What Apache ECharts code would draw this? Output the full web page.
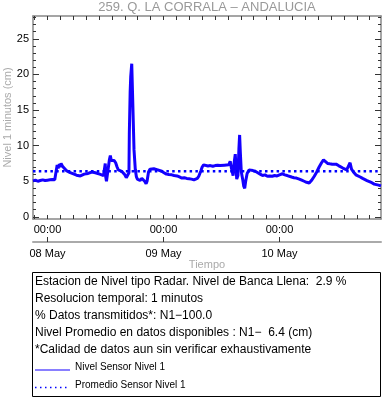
<!DOCTYPE html>
<html>
<head>
<meta charset="utf-8">
<script src="https://cdn.jsdelivr.net/npm/echarts@6/dist/echarts.min.js"></script>
<style>
html,body{margin:0;padding:0;background:#fff;}
#c{width:382px;height:404px;}
</style>
</head>
<body>
<div id="c"></div>
<script>
// ---- data (hours relative to 08 May 00:00, level in cm) ----
var titulo = '259. Q. LA CORRALA \u2013 ANDALUCIA';
var horas = [-3.0,-2.5,-2.0,-1.5,-1.0,-0.5,0.0,0.5,1.0,1.5,1.85,2.0,2.2,2.45,2.6,2.8,3.1,3.5,3.9,4.3,4.7,5.1,5.5,6.0,6.4,6.8,7.2,7.6,8.0,8.4,8.8,9.2,9.5,9.9,10.3,10.8,11.2,11.6,11.85,11.95,12.05,12.2,12.35,12.6,12.8,13.0,13.2,13.5,13.8,14.1,14.4,14.65,15.0,15.35,15.7,16.0,16.3,16.5,16.7,16.85,16.93,17.1,17.22,17.43,17.63,17.9,18.17,18.4,18.6,18.9,19.15,19.5,19.8,20.1,20.4,20.6,20.9,21.2,21.6,22.0,22.4,22.8,23.2,23.65,24.1,24.6,25.1,25.7,26.2,26.8,27.3,27.8,28.3,28.8,29.3,29.8,30.3,30.6,31.0,31.3,31.7,32.0,32.3,32.7,33.2,33.7,34.2,34.7,35.2,35.7,36.1,36.6,37.0,37.5,37.8,38.0,38.2,38.4,38.6,38.85,39.0,39.15,39.4,39.6,39.75,39.9,40.1,40.4,40.6,40.8,41.0,41.3,41.7,42.0,42.5,43.0,43.5,44.0,44.5,45.0,45.5,46.0,46.5,47.0,47.5,48.0,48.6,49.1,49.6,50.0,50.5,51.0,51.5,52.1,52.6,53.1,53.6,54.15,54.6,55.2,55.7,56.2,56.7,57.1,57.5,57.95,58.4,58.9,59.3,59.7,60.2,60.6,61.1,61.5,61.9,62.3,62.6,62.9,63.3,63.8,64.2,64.7,65.2,65.6,66.1,66.6,67.1,67.6,68.0,68.5,69.0];
var nivel = [5.05,5.15,5.0,5.1,5.2,5.1,5.15,5.2,5.25,5.2,5.3,7.3,6.8,7.4,7.0,7.5,7.1,6.9,6.5,6.4,6.2,6.15,6.0,5.85,5.9,5.75,5.9,6.0,6.05,6.1,6.2,6.3,6.35,6.2,6.1,6.0,6.05,5.8,5.6,7.5,5.6,5.0,5.2,7.0,8.0,8.6,7.9,8.0,7.9,7.6,7.0,6.6,6.5,6.4,6.2,5.9,5.5,5.3,5.4,6.2,11.7,17.5,19.7,21.5,16.4,9.4,6.6,5.6,5.3,5.2,5.1,5.4,5.3,5.0,4.65,5.0,6.3,6.7,6.8,6.75,6.8,6.6,6.5,6.4,6.2,6.0,5.95,5.9,5.8,5.75,5.6,5.45,5.5,5.4,5.35,5.3,5.2,5.1,5.4,5.7,6.4,7.0,7.3,7.2,7.15,7.2,7.1,7.2,7.25,7.2,7.3,7.25,7.2,7.3,7.8,7.0,6.4,5.8,7.5,8.8,7.0,5.3,5.8,9.5,11.5,9.0,6.3,5.2,4.3,4.0,5.0,6.1,6.6,6.7,6.5,6.4,6.2,6.0,5.8,5.9,5.7,5.75,5.7,5.8,5.75,5.9,6.05,5.9,5.8,5.7,5.6,5.5,5.45,5.3,5.15,5.0,4.85,4.75,5.1,5.7,6.3,7.0,7.6,8.0,7.8,7.5,7.45,7.4,7.5,7.4,7.2,7.1,6.85,6.7,6.6,6.8,7.6,6.7,6.3,5.9,5.8,5.6,5.4,5.2,5.1,4.95,4.8,4.6,4.5,4.45,4.35];
var promedio = 6.4;
var xMin = -3, xMax = 69;
var horaTicks = [0, 24, 48];
var horaLabels = ['00:00', '00:00', '00:00'];
var diaLabels = ['08 May', '09 May', '10 May'];
var yLabels = [0, 5, 10, 15, 20, 25];
var yMin = -0.3, yMax = 28.2;
var textos = [
  'Estacion de Nivel tipo Radar. Nivel de Banca Llena:  2.9 %',
  'Resolucion temporal: 1 minutos',
  '% Datos transmitidos*: N1\u2212100.0',
  'Nivel Promedio en datos disponibles : N1\u2212  6.4 (cm)',
  '*Calidad de datos aun sin verificar exhaustivamente'
];
var leyenda = ['Nivel Sensor Nivel 1', 'Promedio Sensor Nivel 1'];

// ---- build ----
var FONT = 'Liberation Sans, Arial, sans-serif';
var serieNivel = horas.map(function (h, i) { return [h, nivel[i]]; });
var seriePromedio = [[xMin, promedio], [xMax, promedio]];

var xMinor = [];
for (var k = -9; k <= 30; k++) {
  var v = k * 24 / 9;
  if (v > xMin && v < xMax) xMinor.push(+v.toFixed(4));
}
var yMinor = [];
for (var j = 0; j <= 28; j++) yMinor.push(j);

var axisLineStyle = { color: '#888', width: 1.5 };
var tickStyle = { color: '#333', width: 1 };

function xAx(pos, withLabels) {
  return {
    type: 'value', gridIndex: 0, position: pos, min: xMin, max: xMax,
    axisLine: { show: true, onZero: false, lineStyle: axisLineStyle },
    axisTick: { show: true, inside: true, length: 4, customValues: xMinor, lineStyle: tickStyle },
    axisLabel: withLabels ? {
      show: true, customValues: horaTicks, margin: 5,
      formatter: function (val) { return horaLabels[horaTicks.indexOf(Math.round(val))] || ''; },
      color: '#000', fontSize: 11, fontFamily: FONT
    } : { show: false },
    splitLine: { show: false }
  };
}
function yAx(pos, major, withLabels, withLine) {
  return {
    type: 'value', gridIndex: 0, position: pos, offset: 0, min: yMin, max: yMax,
    axisLine: { show: withLine, onZero: false, lineStyle: axisLineStyle },
    axisTick: { show: true, inside: true, length: major ? 6 : 3, customValues: major ? yLabels : yMinor, lineStyle: tickStyle },
    axisLabel: withLabels ? {
      show: true, customValues: yLabels, margin: 4, color: '#000', fontSize: 11, fontFamily: FONT
    } : { show: false },
    splitLine: { show: false },
    name: withLabels ? 'Nivel 1 minutos (cm)' : '',
    nameLocation: 'middle', nameGap: 20, nameMoveOverlap: false,
    nameTextStyle: { color: '#aaa', fontSize: 11, fontFamily: FONT }
  };
}

var chart = echarts.init(document.getElementById('c'), null, { renderer: 'canvas' });
var option = {
  backgroundColor: '#fff',
  animation: false,
  title: {
    text: titulo, left: 207, top: 1, padding: 0, textAlign: 'center',
    textStyle: { color: '#999', fontSize: 13, fontWeight: 'normal', fontFamily: FONT }
  },
  grid: { left: 33, right: 1, top: 16, height: 203, containLabel: false, outerBoundsMode: 'none' },
  xAxis: [
    xAx('bottom', true),
    xAx('top', false),
    {
      type: 'value', gridIndex: 0, position: 'bottom', offset: 23, min: xMin, max: xMax,
      axisLine: { show: true, onZero: false, lineStyle: { color: '#aaa', width: 2 } },
      axisTick: { show: true, inside: true, length: 5, customValues: horaTicks, lineStyle: tickStyle },
      axisLabel: {
        show: true, customValues: horaTicks, margin: 6,
        formatter: function (val) { return diaLabels[horaTicks.indexOf(Math.round(val))] || ''; },
        color: '#000', fontSize: 11, fontFamily: FONT
      },
      splitLine: { show: false },
      name: 'Tiempo', nameLocation: 'middle', nameGap: 17, nameMoveOverlap: false,
      nameTextStyle: { color: '#aaa', fontSize: 11, fontFamily: FONT }
    }
  ],
  yAxis: [
    yAx('left', true, true, true),
    yAx('left', false, false, false),
    yAx('right', true, false, true),
    yAx('right', false, false, false)
  ],
  series: [
    {
      name: leyenda[0], type: 'line', xAxisIndex: 0, yAxisIndex: 0,
      data: serieNivel, showSymbol: false, symbol: 'none',
      lineStyle: { color: '#1400ff', width: 3 }, z: 3
    },
    {
      name: leyenda[1], type: 'line', xAxisIndex: 0, yAxisIndex: 0,
      data: seriePromedio, showSymbol: false, symbol: 'none',
      lineStyle: { color: '#0000ff', width: 2.5, type: [2.5, 3.3] }, z: 4
    }
  ],
  graphic: [
    {
      type: 'rect', shape: { x: 32.5, y: 272.5, width: 348, height: 124 },
      style: { fill: 'none', stroke: '#000', lineWidth: 1 }
    }
  ].concat(textos.map(function (t, i) {
    return {
      type: 'text', x: 35, y: 282 + i * 17,
      style: { text: t, fill: '#000', font: '12px ' + FONT, verticalAlign: 'middle' }
    };
  })).concat([
    { type: 'line', shape: { x1: 35, y1: 370, x2: 70, y2: 370 }, style: { stroke: '#1400ff', lineWidth: 1.2 } },
    { type: 'text', x: 75, y: 367.5, style: { text: leyenda[0], fill: '#000', font: '10px ' + FONT, verticalAlign: 'middle' } },
    { type: 'line', shape: { x1: 35, y1: 387.5, x2: 70, y2: 387.5 }, style: { stroke: '#0000ff', lineWidth: 1.5, lineDash: [1.5, 3.5] } },
    { type: 'text', x: 75, y: 385.5, style: { text: leyenda[1], fill: '#000', font: '10px ' + FONT, verticalAlign: 'middle' } }
  ])
};
chart.setOption(option);
</script>
</body>
</html>
